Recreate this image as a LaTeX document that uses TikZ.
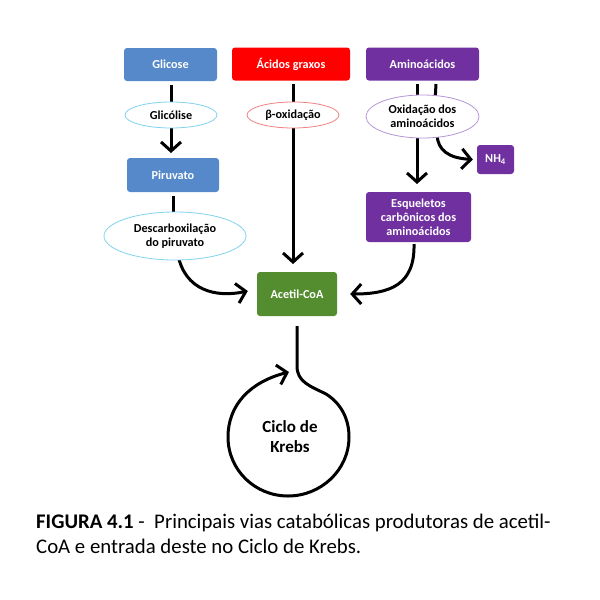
\documentclass[tikz,border=0pt]{standalone}
\usepackage{fontspec}
\setmainfont{Carlito}
\usetikzlibrary{arrows.meta,shapes.geometric,calc}
\definecolor{bluebox}{RGB}{86,137,201}
\definecolor{redbox}{RGB}{255,0,0}
\definecolor{purplebox}{RGB}{112,48,160}
\definecolor{greenbox}{RGB}{84,140,48}
\definecolor{elblue}{RGB}{130,210,240}
\definecolor{elred}{RGB}{240,130,130}
\definecolor{elpurple}{RGB}{180,150,215}
\tikzset{
  box/.style={draw=none, rounded corners=3pt, text=white, font=\fontsize{12.2}{14}\selectfont\bfseries, align=center, inner sep=0pt},
  oval/.style={ellipse, draw, fill=white, line width=0.8pt, font=\fontsize{12.2}{14}\selectfont\bfseries, align=center, inner sep=0pt},
  flow/.style={line width=3pt, -{Straight Barb[length=9pt,width=20pt,line width=3pt]}},
  plain/.style={line width=3pt}
}
\begin{document}
\begin{tikzpicture}[x=1pt,y=-1pt]
\useasboundingbox[fill=white] (0,0) rectangle (600,600);
% top boxes
\node[box, fill=bluebox, minimum width=93pt, minimum height=33pt] (glicose) at (170.5,64.5) {Glicose};
\node[box, fill=redbox, minimum width=118pt, minimum height=33pt] (acidos) at (291,64) {Ácidos graxos};
\node[box, fill=purplebox, minimum width=113pt, minimum height=33pt] (amino) at (422.5,64) {Aminoácidos};
\node[box, fill=bluebox, minimum width=92pt, minimum height=34pt] (piruvato) at (173,175) {Piruvato};
\node[box, fill=purplebox, minimum width=37pt, minimum height=29pt] (nh4) at (495.5,159.5) {NH\textsubscript{4}};
\node[box, fill=purplebox, minimum width=105pt, minimum height=50pt] (esq) at (418.5,217) {Esqueletos\\carbônicos dos\\aminoácidos};
\node[box, fill=greenbox, minimum width=80pt, minimum height=44pt] (acetil) at (297,294) {Acetil-CoA};
% coordinates for connectors
\coordinate (gS) at (171,85);
\coordinate (fS) at (293,84);
\coordinate (aA) at (417,84);
\coordinate (aB) at (436,84);
\coordinate (nhS) at (437,135);
\coordinate (pS) at (173,196);
\coordinate (esqS) at (414,244);
\coordinate (desS) at (178,255);
\coordinate (kS) at (297,326);
% lines behind ellipses
\draw[flow] (gS) -- (171,153);
\draw[flow] (fS) -- (293,264);
\draw[flow] (aA) -- (417,184);
\draw[plain] (aB) -- (434,120);
\draw[flow] (nhS) .. controls (438,150) and (448,158) .. ($(nh4.west)+(-4pt,0)$);
\draw[plain] (pS) -- (173,236);
\draw[flow] (desS) .. controls (185,290) and (215,298) .. ($(acetil.west)+(-9pt,3pt)$);
\draw[flow] (esqS) .. controls (415,285) and (390,294) .. ($(acetil.east)+(13pt,0)$);
% ellipses
\node[oval, draw=elblue, minimum width=92pt, minimum height=26pt] (glicolise) at (171,115) {Glicólise};
\node[oval, draw=elred, minimum width=92pt, minimum height=26pt] (beta) at (293,115) {β-oxidação};
\node[oval, draw=elpurple, minimum width=113pt, minimum height=43pt] (oxid) at (422.5,116.5) {Oxidação dos\\aminoácidos};
\node[oval, draw=elblue, minimum width=142pt, minimum height=48pt] (descarb) at (175,236) {Descarboxilação\\do piruvato};
% Krebs cycle
\node[font=\fontsize{17}{20}\selectfont\bfseries, align=center] (krebs) at (290,437) {Ciclo de\\Krebs};
\draw[line width=3pt, -{Straight Barb[length=9pt,width=20pt,line width=3pt]}]
  (kS) -- (297,366) .. controls (297,382) and (310,386) .. (326,394)
  .. controls (342,404) and (349,420) .. (349,437)
  .. controls (349,470) and (321,496) .. (288,496)
  .. controls (255,496) and (228,470) .. (228,437)
  .. controls (228,405) and (250,382) .. (289,372);
% caption
\node[anchor=north west, align=left, inner sep=0pt, font=\fontsize{20.8}{25}\selectfont] (caption) at (36,514)
  {\textbf{FIGURA 4.1} -\ \ Principais vias catabólicas produtoras de acetil-\\CoA e entrada deste no Ciclo de Krebs.};
\end{tikzpicture}
\end{document}
